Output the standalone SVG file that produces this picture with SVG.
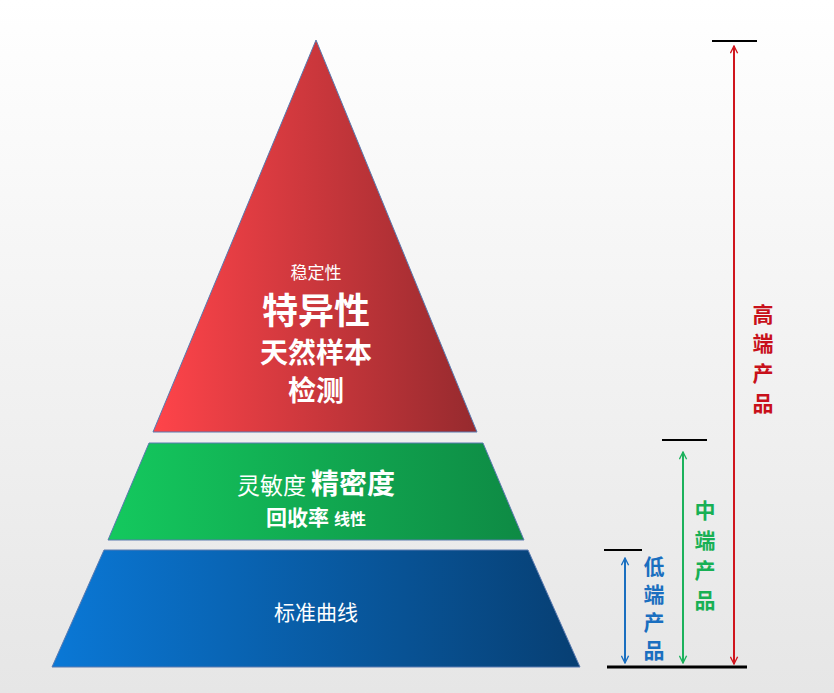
<svg xmlns="http://www.w3.org/2000/svg" width="834" height="693" viewBox="0 0 834 693">
<style>
text{font-family:"Noto Sans CJK SC","Noto Sans",sans-serif;text-anchor:middle;fill:#fff}
.b{font-weight:bold}
.v{font-weight:bold;font-size:21px}
</style>
<defs>
<linearGradient id="bg" x1="0" y1="0" x2="0" y2="1"><stop offset="0" stop-color="#ffffff"/><stop offset="1" stop-color="#e6e6e6"/></linearGradient>
<linearGradient id="gr" x1="0" y1="0" x2="1" y2="0"><stop offset="0" stop-color="#ff444a"/><stop offset="1" stop-color="#962a2e"/></linearGradient>
<linearGradient id="gg" x1="0" y1="0" x2="1" y2="0"><stop offset="0" stop-color="#14c95e"/><stop offset="1" stop-color="#0e8a44"/></linearGradient>
<linearGradient id="gb" x1="0" y1="0" x2="1" y2="0"><stop offset="0" stop-color="#0a78d6"/><stop offset="1" stop-color="#073f73"/></linearGradient>
<marker id="ar" viewBox="0 0 10 10" refX="9" refY="5" markerWidth="9" markerHeight="9" orient="auto-start-reverse" markerUnits="userSpaceOnUse"><path d="M1 1 L9 5 L1 9" fill="none" stroke="context-stroke" stroke-width="1.5"/></marker>
</defs>
<rect width="834" height="693" fill="url(#bg)"/>
<g id="top"><polygon points="316,40 477,432 153,432" fill="url(#gr)" stroke="#5a7ab0" stroke-width="1"/>
<text x="316" y="279" font-size="17">稳定性</text>
<text x="316" y="324" font-size="36" class="b">特异性</text>
<text x="316" y="363" font-size="28" class="b">天然样本</text>
<text x="316" y="401" font-size="28" class="b">检测</text></g>
<g id="mid"><polygon points="149,443 483,443 524,540 108,540" fill="url(#gg)" stroke="#5a7ab0" stroke-width="1"/>
<text x="316" y="494" font-size="23"><tspan>灵敏度 </tspan><tspan class="b" font-size="28">精密度</tspan></text>
<text x="316" y="525" font-size="21" class="b">回收率 <tspan font-size="16">线性</tspan></text></g>
<g id="low"><polygon points="104,550 528,550 580,667 52,667" fill="url(#gb)" stroke="#5a7ab0" stroke-width="1"/>
<text x="316" y="620" font-size="21">标准曲线</text></g>
<g id="connectors" stroke-width="2">
<line x1="712" y1="41" x2="757" y2="41" stroke="#000"/>
<line x1="662" y1="440" x2="707" y2="440" stroke="#000"/>
<line x1="604" y1="550" x2="642" y2="550" stroke="#000"/>
<line x1="607" y1="667" x2="747" y2="667" stroke="#000" stroke-width="3"/>
<line x1="734" y1="46" x2="734" y2="664" stroke="#d0151d" marker-start="url(#ar)" marker-end="url(#ar)"/>
<line x1="683" y1="452" x2="683" y2="663" stroke="#1cb25c" marker-start="url(#ar)" marker-end="url(#ar)"/>
<line x1="625" y1="558" x2="625" y2="663" stroke="#1a6fc0" marker-start="url(#ar)" marker-end="url(#ar)"/>
</g>
<g id="labels">
<text class="v" style="fill:#c8101a" x="763" y="322">高</text><text class="v" style="fill:#c8101a" x="763" y="351">端</text><text class="v" style="fill:#c8101a" x="763" y="381">产</text><text class="v" style="fill:#c8101a" x="763" y="411">品</text>
<text class="v" style="fill:#18b054" x="705" y="518">中</text><text class="v" style="fill:#18b054" x="705" y="548">端</text><text class="v" style="fill:#18b054" x="705" y="578">产</text><text class="v" style="fill:#18b054" x="705" y="608">品</text>
<text class="v" style="fill:#1a6fc0" x="654" y="574">低</text><text class="v" style="fill:#1a6fc0" x="654" y="602">端</text><text class="v" style="fill:#1a6fc0" x="654" y="630">产</text><text class="v" style="fill:#1a6fc0" x="654" y="658">品</text>
</g>
</svg>
